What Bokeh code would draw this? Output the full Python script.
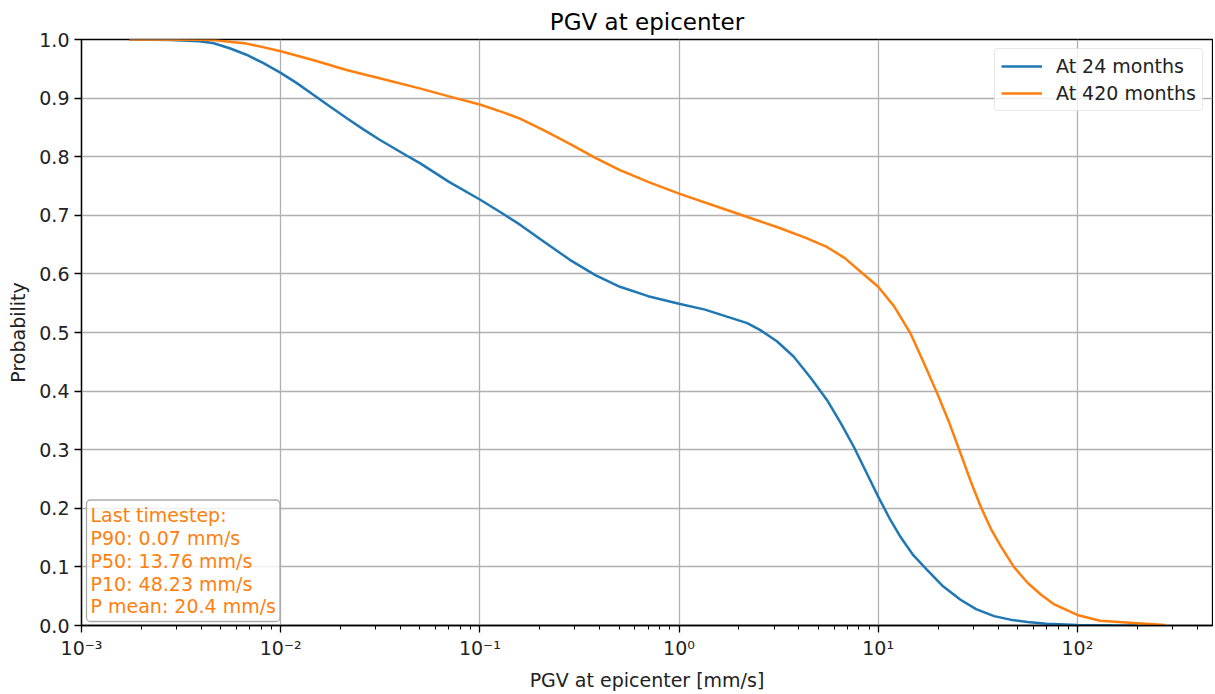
from bokeh.plotting import figure
from bokeh.models import FixedTicker, CustomJSTickFormatter, Label, Range1d, NumeralTickFormatter
from bokeh.embed import file_html
from bokeh.resources import INLINE

# ---------------- data ----------------
title_text = "PGV at epicenter"
x_label = "PGV at epicenter [mm/s]"
y_label = "Probability"
series_names = ["At 24 months", "At 420 months"]

pgv_24 = [0.00174, 0.0028, 0.0039, 0.00457, 0.00555, 0.00673, 0.00815, 0.010, 0.0120, 0.01452,
          0.0176, 0.0214, 0.0259, 0.0314, 0.0428, 0.050, 0.070, 0.100, 0.130, 0.159,
          0.210, 0.283, 0.380, 0.505, 0.700, 1.00, 1.35, 1.74, 2.20, 2.56,
          3.10, 3.76, 4.60, 5.53, 6.50, 7.54, 8.70, 10.0, 11.4, 12.9,
          15.0, 17.6, 21.0, 25.9, 31.0, 38.2, 46.0, 56.2, 70.0, 100.0, 150.0, 200.0]
prob_24 = [1.000, 0.999, 0.997, 0.994, 0.985, 0.974, 0.960, 0.943, 0.926, 0.906,
           0.886, 0.866, 0.847, 0.829, 0.802, 0.789, 0.757, 0.727, 0.703, 0.684,
           0.655, 0.624, 0.598, 0.578, 0.562, 0.549, 0.539, 0.527, 0.516, 0.504,
           0.485, 0.459, 0.422, 0.385, 0.345, 0.305, 0.262, 0.220, 0.183, 0.152,
           0.120, 0.095, 0.068, 0.044, 0.028, 0.016, 0.010, 0.006, 0.003, 0.001, 0.0003, 0.0]

pgv_420 = [0.00174, 0.0039, 0.00457, 0.00673, 0.00815, 0.010, 0.01452, 0.0214, 0.0314, 0.0493,
           0.070, 0.100, 0.130, 0.159, 0.210, 0.283, 0.380, 0.505, 0.700, 1.00,
           1.74, 3.10, 4.30, 5.53, 6.80, 8.14, 10.0, 12.0, 14.5, 17.0,
           19.8, 22.8, 25.9, 29.0, 32.7, 36.8, 41.3, 48.0, 56.2, 66.0,
           76.6, 100.0, 130.0, 200.0, 277.0]
prob_420 = [1.000, 0.9995, 0.999, 0.993, 0.987, 0.980, 0.965, 0.948, 0.934, 0.917,
            0.903, 0.889, 0.876, 0.865, 0.845, 0.822, 0.798, 0.777, 0.757, 0.737,
            0.709, 0.680, 0.662, 0.646, 0.627, 0.604, 0.578, 0.545, 0.499, 0.447,
            0.396, 0.345, 0.294, 0.248, 0.203, 0.165, 0.135, 0.100, 0.073, 0.052,
            0.036, 0.018, 0.008, 0.004, 0.001]

x_tick_values = [1e-3, 1e-2, 1e-1, 1e0, 1e1, 1e2]
x_tick_labels = ["10\u207b\u00b3", "10\u207b\u00b2", "10\u207b\u00b9", "10\u2070", "10\u00b9", "10\u00b2"]
y_tick_values = [0.0, 0.1, 0.2, 0.3, 0.4, 0.5, 0.6, 0.7, 0.8, 0.9, 1.0]
stats_lines = ["Last timestep:", "P90: 0.07 mm/s", "P50: 13.76 mm/s", "P10: 48.23 mm/s", "P mean: 20.4 mm/s"]

# ---------------- style ----------------
FONT = "DejaVu Sans"
BLUE = "#1f77b4"
ORANGE = "#ff7f0e"
FS = "19px"
X_MAX = 477

p = figure(width=1213, height=693, x_axis_type="log",
           x_range=Range1d(1e-3, X_MAX), y_range=Range1d(0, 1),
           output_backend="svg", toolbar_location=None, title=title_text,
           min_border_left=81, min_border_right=1, min_border_top=39, min_border_bottom=67,
           background_fill_color="white", border_fill_color="white")

p.title.align = "center"
p.title.text_font = FONT
p.title.text_font_size = "23px"
p.title.text_font_style = "normal"
p.title.text_color = "black"
p.title.offset = 0
p.title.standoff = 9

minor = []
for d in x_tick_values + [1e3]:
    for k in range(2, 10):
        if d * k < X_MAX:
            minor.append(d * k)
p.xaxis.ticker = FixedTicker(ticks=x_tick_values, minor_ticks=minor)
p.xaxis.formatter = CustomJSTickFormatter(args=dict(values=x_tick_values, labels=x_tick_labels), code="""
let best = 0; let bd = Infinity;
for (let i = 0; i < values.length; i++) {
  const d = Math.abs(Math.log10(tick) - Math.log10(values[i]));
  if (d < bd) { bd = d; best = i; }
}
return labels[best];
""")
p.yaxis.ticker = FixedTicker(ticks=y_tick_values, minor_ticks=[])
p.yaxis.formatter = NumeralTickFormatter(format="0.0")

for ax in (p.xaxis, p.yaxis):
    ax.axis_line_color = "black"
    ax.axis_line_width = 1.3
    ax.major_tick_line_color = "black"
    ax.major_tick_line_width = 1.3
    ax.major_tick_out = 7
    ax.major_tick_in = 0
    ax.minor_tick_line_color = "black"
    ax.minor_tick_line_width = 1.0
    ax.minor_tick_out = 4
    ax.minor_tick_in = 0
    ax.major_label_text_font = FONT
    ax.major_label_text_font_size = FS
    ax.major_label_text_color = "#222222"
    ax.axis_label_text_font = FONT
    ax.axis_label_text_font_size = FS
    ax.axis_label_text_font_style = "normal"
    ax.axis_label_text_color = "#222222"

p.xaxis.axis_label = x_label
p.yaxis.axis_label = y_label
p.xaxis.major_label_standoff = 4
p.yaxis.major_label_standoff = 5
p.xaxis.axis_label_standoff = 7
p.yaxis.axis_label_standoff = 7

for g in (p.xgrid, p.ygrid):
    g.grid_line_color = "#b0b0b0"
    g.grid_line_width = 1.3
p.xgrid.ticker = FixedTicker(ticks=x_tick_values)
p.ygrid.ticker = FixedTicker(ticks=y_tick_values)

p.outline_line_color = "black"
p.outline_line_width = 1.3
p.outline_line_alpha = 1.0

p.line(pgv_24, prob_24, line_color=BLUE, line_width=2.5, legend_label=series_names[0])
p.line(pgv_420, prob_420, line_color=ORANGE, line_width=2.5, legend_label=series_names[1])

lg = p.legend[0]
lg.location = "top_right"
lg.margin = 9
lg.padding = 6
lg.spacing = 5
lg.glyph_width = 41
lg.label_standoff = 14
lg.label_text_font = FONT
lg.label_text_font_size = FS
lg.label_text_color = "#222222"
lg.border_line_color = "#d0d0d0"
lg.border_line_width = 1.0
lg.background_fill_alpha = 0.8
if "border_radius" in lg.properties():
    lg.border_radius = 4

lab = Label(x=1e-3, y=0.0, x_offset=5, y_offset=4, anchor="bottom_left",
            text="\n".join(stats_lines), text_color=ORANGE, text_font=FONT,
            text_font_size=FS, text_line_height=1.04,
            background_fill_color="white", background_fill_alpha=0.8,
            border_line_color="#aaaaaa", border_line_width=1.3)
if "padding" in lab.properties():
    lab.padding = 4
if "border_radius" in lab.properties():
    lab.border_radius = 4
p.add_layout(lab)

open("out.html", "w").write(file_html(p, INLINE))
